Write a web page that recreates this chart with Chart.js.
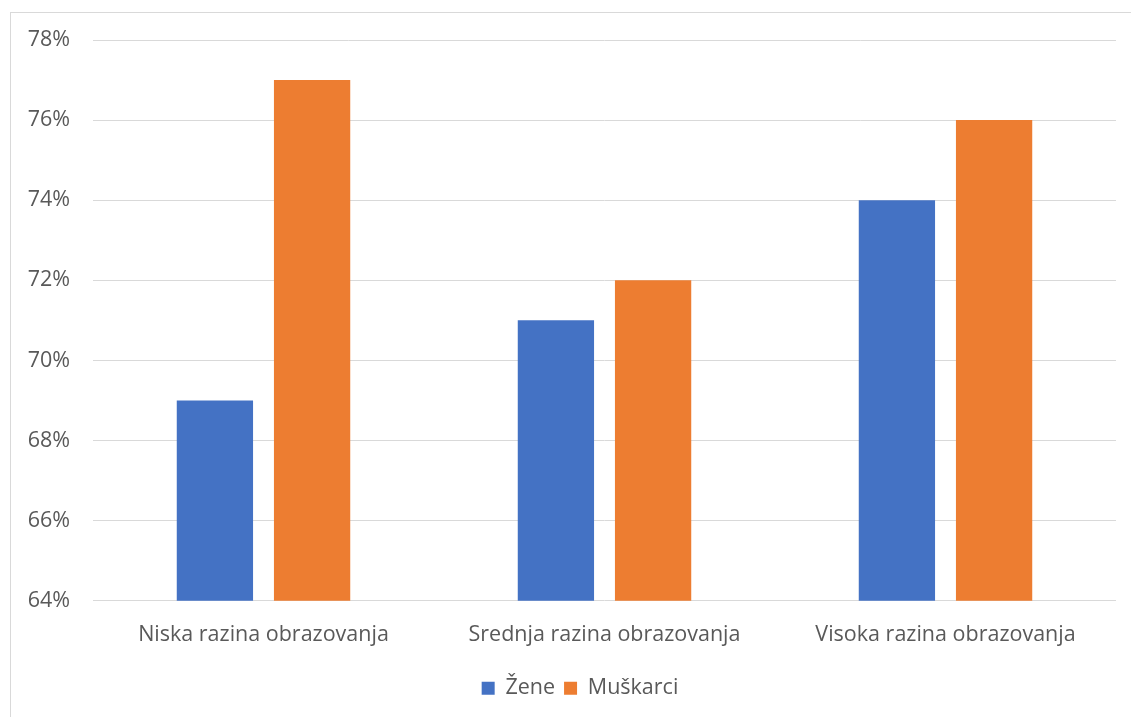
<!DOCTYPE html>
<html><head><meta charset="utf-8">
<script src="https://cdn.jsdelivr.net/npm/chart.js@4"></script>
<style>
html,body{margin:0;padding:0;background:#fff;overflow:hidden;}
#frame{position:absolute;left:10px;top:12px;width:1140px;height:720px;border:1px solid #d9d9d9;box-sizing:border-box;}
#wrap{position:absolute;left:0;top:0;width:1131px;height:717px;}
</style></head><body>
<div id="frame"></div>
<div id="wrap"><canvas id="c"></canvas></div>
<script>
const categories = ["Niska razina obrazovanja", "Srednja razina obrazovanja", "Visoka razina obrazovanja"];
const zene = [69, 71, 74];
const muskarci = [77, 72, 76];
const yTicks = [64, 66, 68, 70, 72, 74, 76, 78];

const FONT = {family: "'Open Sans', sans-serif", size: 21.5};
const shiftLegend = {
  id: 'shiftLegend',
  afterLayout(chart) {
    if (chart.legend) { chart.legend.left += 22; chart.legend.right += 22; }
  }
};
new Chart(document.getElementById('c'), {
  type: 'bar',
  data: {
    labels: categories,
    datasets: [
      {label: 'Žene', data: zene, backgroundColor: '#4472C4', categoryPercentage: 0.57, barPercentage: 0.785},
      {label: 'Muškarci', data: muskarci, backgroundColor: '#ED7D31', categoryPercentage: 0.57, barPercentage: 0.785}
    ]
  },
  plugins: [shiftLegend],
  options: {
    responsive: true,
    maintainAspectRatio: false,
    animation: false,
    devicePixelRatio: 1,
    layout: {padding: {top: 40, right: 15, left: 0, bottom: 8}},
    plugins: {
      tooltip: {enabled: false},
      legend: {
        position: 'bottom',
        labels: {color: '#595959', font: FONT, boxWidth: 13, boxHeight: 13, padding: 9, usePointStyle: false}
      }
    },
    scales: {
      x: {
        grid: {display: false, drawTicks: false},
        border: {display: false},
        ticks: {color: '#595959', font: FONT, padding: 21}
      },
      y: {
        min: 64, max: 78,
        afterBuildTicks: s => { s.ticks = yTicks.map(v => ({value: v})); },
        afterFit: s => { s.width = 93; },
        grid: {color: '#d9d9d9', lineWidth: 1, drawTicks: false},
        border: {display: false},
        ticks: {color: '#595959', font: FONT, padding: 23, callback: v => v + '%'}
      }
    }
  }
});
</script>
</body></html>
